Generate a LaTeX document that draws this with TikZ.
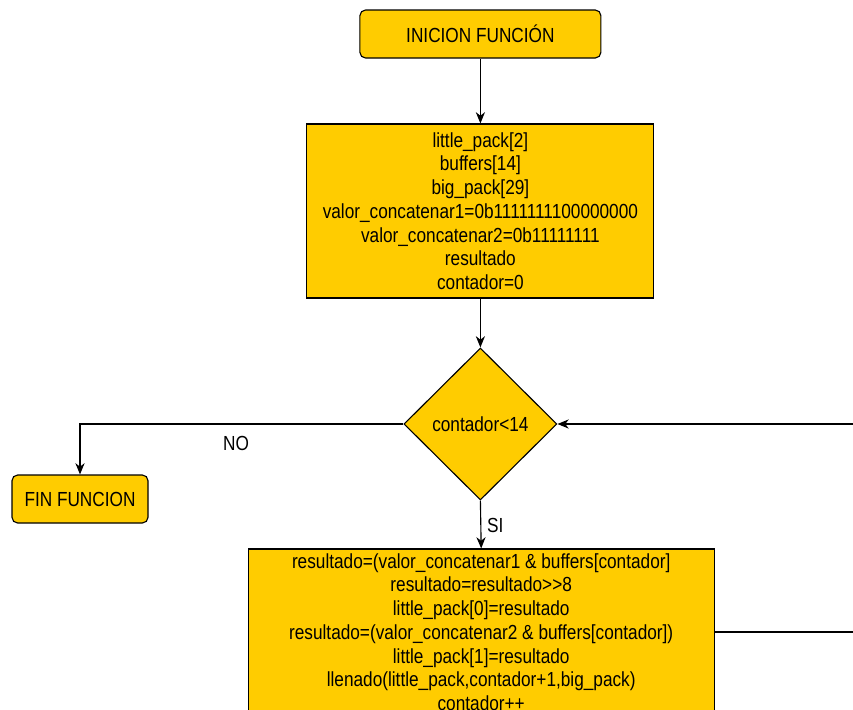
\documentclass[tikz,border=0pt]{standalone}
\usepackage{fontspec}
\setmainfont[FakeStretch=0.845]{Liberation Sans}
\usetikzlibrary{shapes.geometric,arrows.meta}

\definecolor{amarillo}{HTML}{FFCC00}

\tikzset{
  terminal/.style={draw, fill=amarillo, rounded corners=4pt, line width=0.8pt,
    minimum height=1.2cm, inner sep=0pt},
  bloque/.style={draw, fill=amarillo, line width=0.8pt, align=center, inner sep=0pt},
  decision/.style={diamond, draw, fill=amarillo, line width=0.8pt, inner sep=0pt,
    minimum width=3.825cm, minimum height=3.8cm},
  flecha/.style={->, line width=0.8pt},
  etiqueta/.style={inner sep=0pt}
}

\begin{document}
\begin{tikzpicture}[
  >={Stealth[length=8pt,width=6.5pt,inset=2.5pt]},
  font=\fontsize{14.5}{16.9}\selectfont
]
  \useasboundingbox (0,0) rectangle (21.325,-17.75);
  \clip (0,0) rectangle (21.325,-17.75);

  % Inicio y declaraciones
  \node[terminal, minimum width=6.025cm] (inicio) at (12.01,-0.85) {INICION FUNCIÓN};
  \node[bloque, minimum width=8.675cm, minimum height=4.35cm] (declaracion) at (12.01,-5.275)
    {little\_pack[2]\\buffers[14]\\big\_pack[29]\\valor\_concatenar1=0b1111111100000000\\
     valor\_concatenar2=0b11111111\\resultado\\contador=0};

  % Condicion del ciclo
  \node[decision] (condicion) at (12.01,-10.6) {contador<14};
  \node[terminal, minimum width=3.4cm] (fin) at (2.0,-12.475) {FIN FUNCION};

  % Cuerpo del ciclo
  \node[bloque, minimum width=11.65cm, minimum height=4.15cm] (cuerpo) at (12.03,-15.8)
    {resultado=(valor\_concatenar1 \& buffers[contador]\\resultado=resultado>{}>8\\
     little\_pack[0]=resultado\\resultado=(valor\_concatenar2 \& buffers[contador])\\
     little\_pack[1]=resultado\\llenado(little\_pack,contador+1,big\_pack)\\contador++};

  \coordinate (retorno) at (21.75,-15.8);

  % Conectores
  \draw[flecha] (inicio) -- (declaracion);
  \draw[flecha] (declaracion) -- (condicion);
  \draw[flecha] (condicion.west) -| (fin.north);
  \draw[flecha] (condicion.south) -- (cuerpo.north);
  \draw[flecha] (cuerpo.east) -- (retorno) |- (condicion.east);

  \node[etiqueta] (no) at (5.9,-11.075) {NO};
  \node[etiqueta] (si) at (12.38,-13.125) {SI};
\end{tikzpicture}
\end{document}
